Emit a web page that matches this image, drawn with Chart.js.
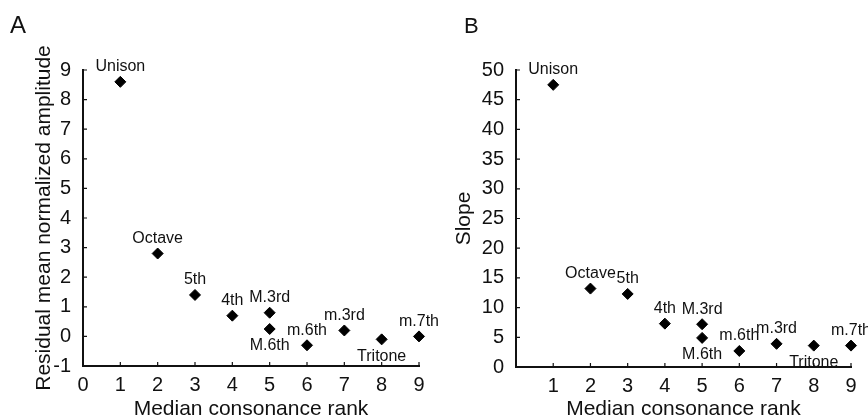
<!DOCTYPE html>
<html>
<head>
<meta charset="utf-8">
<script src="https://cdn.jsdelivr.net/npm/chart.js@4.4.1/dist/chart.umd.min.js"></script>
<style>
  body { margin: 0; background: #fff; }
  #wrap { position: relative; width: 868px; height: 420px; }
  canvas { position: absolute; top: 0; }
</style>
</head>
<body>
<div id="wrap">
  <canvas id="chartA" width="450" height="420" style="left:0"></canvas>
  <canvas id="chartB" width="434" height="420" style="left:434px"></canvas>
</div>
<script>
// data
const intervals = ['Unison', 'Octave', '5th', '4th', 'M.3rd', 'M.6th', 'm.6th', 'm.3rd', 'Tritone', 'm.7th'];
const consonanceRank = [1, 2, 3, 4, 5, 5, 6, 7, 8, 9];
const residualAmplitude = [8.6, 2.8, 1.4, 0.7, 0.8, 0.25, -0.3, 0.2, -0.1, 0.0];
const slope = [47.5, 13.2, 12.3, 7.3, 7.2, 4.9, 2.7, 3.9, 3.6, 3.6];
const rankTicks = [0, 1, 2, 3, 4, 5, 6, 7, 8, 9];
const amplitudeTicks = [-1, 0, 1, 2, 3, 4, 5, 6, 7, 8, 9];
const slopeTicks = [0, 5, 10, 15, 20, 25, 30, 35, 40, 45, 50];

// labels drawn under their marker instead of above
const labelsBelow = ['M.6th', 'Tritone'];

const FONT = "'Liberation Sans', Arial, Helvetica, sans-serif";

// small inward ticks, point labels and the panel letter
const decoPlugin = {
  id: 'deco',
  afterDraw(chart, args, opts) {
    const ctx = chart.ctx;
    const x = chart.scales.x, y = chart.scales.y;
    const area = chart.chartArea;
    ctx.save();
    ctx.strokeStyle = '#111';
    ctx.lineWidth = 1.2;
    ctx.beginPath();
    x.ticks.forEach(t => {
      const px = x.getPixelForValue(t.value);
      ctx.moveTo(px, area.bottom);
      ctx.lineTo(px, area.bottom - 4);
    });
    y.ticks.forEach(t => {
      const py = y.getPixelForValue(t.value);
      ctx.moveTo(area.left, py);
      ctx.lineTo(area.left + 4, py);
    });
    ctx.stroke();

    // point labels
    ctx.fillStyle = '#111';
    ctx.font = '16px ' + FONT;
    ctx.textAlign = 'center';
    ctx.textBaseline = 'middle';
    const meta = chart.getDatasetMeta(0);
    meta.data.forEach((pt, i) => {
      const name = intervals[i];
      const dy = labelsBelow.includes(name) ? 17 : -15;
      ctx.fillText(name, pt.x, pt.y + dy);
    });

    // panel letter
    ctx.font = opts.letterSize + 'px ' + FONT;
    ctx.textAlign = 'left';
    ctx.textBaseline = 'alphabetic';
    ctx.fillText(opts.letter, opts.letterX, 33);
    ctx.restore();
  }
};

function makeChart(id, values, cfg) {
  const points = consonanceRank.map((r, i) => ({ x: r, y: values[i] }));
  return new Chart(document.getElementById(id), {
    type: 'scatter',
    data: {
      datasets: [{
        data: points,
        pointStyle: 'rectRot',
        pointRadius: 5.5,
        pointBackgroundColor: '#000',
        pointBorderColor: '#000',
        pointBorderWidth: 1,
        clip: false
      }]
    },
    plugins: [decoPlugin],
    options: {
      responsive: false,
      animation: false,
      layout: { padding: { top: 70, right: cfg.padRight, left: 0, bottom: 0 } },
      plugins: {
        legend: { display: false },
        tooltip: { enabled: false },
        deco: { letter: cfg.letter, letterX: cfg.letterX, letterSize: cfg.letterSize }
      },
      scales: {
        x: {
          type: 'linear',
          min: 0,
          max: 9,
          afterBuildTicks: s => { s.ticks = rankTicks.map(v => ({ value: v })); },
          afterFit: s => { s.height = cfg.xHeight; },
          grid: { display: false },
          border: { display: true, color: '#111', width: 2 },
          ticks: {
            color: '#111',
            padding: -1,
            font: { family: FONT, size: 20 },
            callback: v => (cfg.hideZero && v === 0) ? '' : String(v)
          },
          title: {
            display: true,
            text: 'Median consonance rank',
            color: '#111',
            font: { family: FONT, size: 21, lineHeight: 1 },
            padding: { top: 0, bottom: 0 }
          }
        },
        y: {
          type: 'linear',
          min: cfg.yMin,
          max: cfg.yMax,
          afterBuildTicks: s => { s.ticks = cfg.yTicks.map(v => ({ value: v })); },
          afterFit: s => { s.width = cfg.yWidth; },
          grid: { display: false },
          border: { display: true, color: '#111', width: 2 },
          ticks: {
            color: '#111',
            padding: 4,
            font: { family: FONT, size: 20 }
          },
          title: {
            display: true,
            text: cfg.yTitle,
            color: '#111',
            font: { family: FONT, size: 21, lineHeight: 1.2 },
            padding: { top: cfg.yTitlePad, bottom: 0 }
          }
        }
      }
    }
  });
}

makeChart('chartA', residualAmplitude, {
  letter: 'A', letterX: 10, letterSize: 24,
  padRight: 31, xHeight: 54, yWidth: 83,
  yMin: -1, yMax: 9, yTicks: amplitudeTicks,
  yTitle: 'Residual mean normalized amplitude', yTitlePad: 32,
  hideZero: false
});

makeChart('chartB', slope, {
  letter: 'B', letterX: 30, letterSize: 22,
  padRight: 17, xHeight: 53, yWidth: 82,
  yMin: 0, yMax: 50, yTicks: slopeTicks,
  yTitle: 'Slope', yTitlePad: 18,
  hideZero: true
});
</script>
</body>
</html>
